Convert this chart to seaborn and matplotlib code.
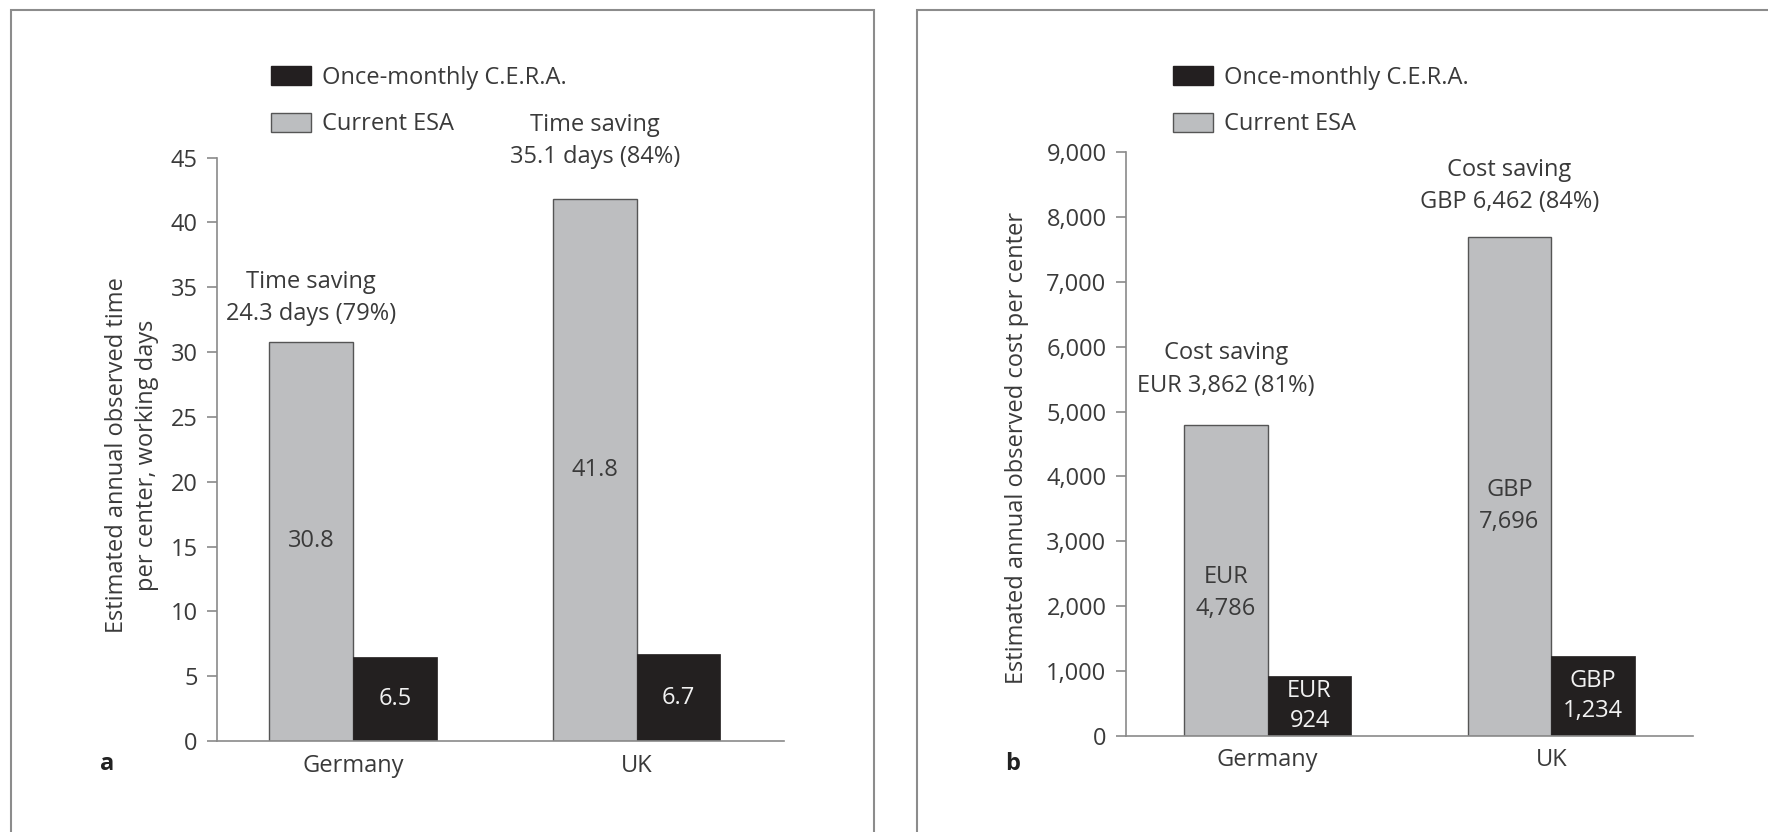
import matplotlib
matplotlib.use("Agg")
import matplotlib.pyplot as plt
from matplotlib.patches import Rectangle, Patch
from matplotlib.ticker import StrMethodFormatter
import pandas as pd
import seaborn as sns

# data
countries = ["Germany", "UK"]
groups = ["Current ESA", "Once-monthly C.E.R.A."]

time_esa = [30.8, 41.8]
time_cera = [6.5, 6.7]
time_esa_labels = ["30.8", "41.8"]
time_cera_labels = ["6.5", "6.7"]
time_saving_labels = ["Time saving\n24.3 days (79%)", "Time saving\n35.1 days (84%)"]
time_ticks = list(range(0, 50, 5))

cost_esa = [4786, 7696]
cost_cera = [924, 1234]
cost_esa_labels = ["EUR\n4,786", "GBP\n7,696"]
cost_cera_labels = ["EUR\n924", "GBP\n1,234"]
cost_saving_labels = ["Cost saving\nEUR 3,862 (81%)", "Cost saving\nGBP 6,462 (84%)"]
cost_ticks = list(range(0, 10000, 1000))

GRAY = "#bcbec0"
BLACK = "#231f20"
TEXT = "#3a3a3a"
AXIS = "#8a8a8a"
W, H = 1768, 832
FS = 17

sns.set_theme(style="white")
plt.rcParams["font.family"] = ["Open Sans", "DejaVu Sans"]


def px(x0, y_top, x1, y_bottom):
    return [x0 / W, 1 - y_bottom / H, (x1 - x0) / W, (y_bottom - y_top) / H]


def draw_panel(ax, esa, cera, esa_labels, cera_labels, saving_labels, saving_y,
               esa_frac, ticks, xlim, fmt):
    df = pd.DataFrame({
        "country": countries * 2,
        "group": [groups[0]] * 2 + [groups[1]] * 2,
        "value": esa + cera,
    })
    sns.barplot(data=df, x="country", y="value", hue="group", order=countries,
                hue_order=groups, palette={groups[0]: GRAY, groups[1]: BLACK},
                width=0.59, gap=0, errorbar=None, legend=False, ax=ax)
    for bar in ax.containers[0]:
        bar.set_edgecolor("#555555")
        bar.set_linewidth(1.0)
    for bar in ax.containers[1]:
        bar.set_edgecolor(BLACK)
        bar.set_linewidth(0.5)

    for i, bar in enumerate(ax.containers[0]):
        cx = bar.get_x() + bar.get_width() / 2
        ax.text(cx, esa[i] * esa_frac, esa_labels[i], ha="center", va="center",
                fontsize=FS, color=TEXT, linespacing=1.45)
        ax.text(cx, saving_y[i], saving_labels[i], ha="center", va="center",
                fontsize=FS, color=TEXT, linespacing=1.45, clip_on=False)
    for i, bar in enumerate(ax.containers[1]):
        cx = bar.get_x() + bar.get_width() / 2
        ax.text(cx, cera[i] / 2, cera_labels[i], ha="center", va="center",
                fontsize=FS, color="#f2f2f2", linespacing=1.3)

    ax.set_xlim(*xlim)
    ax.set_ylim(ticks[0], ticks[-1])
    ax.set_yticks(ticks)
    ax.yaxis.set_major_formatter(StrMethodFormatter(fmt))
    ax.set_xticks([0, 1])
    ax.set_xticklabels(countries)
    ax.set_xticks([xlim[0], (xlim[0] + xlim[1]) / 2, xlim[1]], minor=True)
    ax.set_xlabel("")
    ax.set_ylabel("")
    ax.tick_params(axis="x", which="major", length=0, pad=9, labelsize=FS,
                   labelcolor=TEXT)
    ax.tick_params(axis="x", which="minor", length=7, width=1.2, color=AXIS,
                   direction="out")
    ax.tick_params(axis="y", length=7, width=1.2, color=AXIS, direction="out",
                   pad=7, labelsize=FS, labelcolor=TEXT, left=True)
    for side in ["top", "right"]:
        ax.spines[side].set_visible(False)
    for side in ["left", "bottom"]:
        ax.spines[side].set_color(AXIS)
        ax.spines[side].set_linewidth(1.2)
    ax.set_facecolor("none")


fig = plt.figure(figsize=(W / 100, H / 100), dpi=100)

# panel frames
fig.patches.append(Rectangle((11 / W, -0.1), (874 - 11) / W, 1.1 - 10 / H,
                             transform=fig.transFigure, fill=False,
                             edgecolor="#8c8c8c", linewidth=1.5))
fig.patches.append(Rectangle((917 / W, -0.1), 0.6, 1.1 - 10 / H,
                             transform=fig.transFigure, fill=False,
                             edgecolor="#8c8c8c", linewidth=1.5))

ax_a = fig.add_axes(px(217, 157.6, 784, 741))
ax_b = fig.add_axes(px(1126, 152, 1693, 736))

draw_panel(ax_a, time_esa, time_cera, time_esa_labels, time_cera_labels,
           time_saving_labels, [34.2, 46.3], 0.5, time_ticks, (-0.48, 1.52),
           "{x:.0f}")
draw_panel(ax_b, cost_esa, cost_cera, cost_esa_labels, cost_cera_labels,
           cost_saving_labels, [5648, 8476], 0.46, cost_ticks, (-0.5, 1.5),
           "{x:,.0f}")

fig.text(132 / W, 1 - 455 / H,
         "Estimated annual observed time\nper center, working days",
         rotation=90, ha="center", va="center", fontsize=FS, color=TEXT,
         linespacing=1.3)
fig.text(1017 / W, 1 - 448 / H, "Estimated annual observed cost per center",
         rotation=90, ha="center", va="center", fontsize=FS, color=TEXT)
fig.text(107 / W, 1 - 764 / H, "a", ha="center", va="center", fontsize=FS,
         fontweight="bold", color="#222222")
fig.text(1013 / W, 1 - 764 / H, "b", ha="center", va="center", fontsize=FS,
         fontweight="bold", color="#222222")

handles = [Patch(facecolor=BLACK, edgecolor=BLACK),
           Patch(facecolor=GRAY, edgecolor="#555555")]
legend_labels = [groups[1], groups[0]]
for x0 in [271, 1173]:
    fig.legend(handles, legend_labels, loc="upper left",
               bbox_to_anchor=(x0 / W, 1 - 66 / H), frameon=False, fontsize=FS,
               handlelength=1.7, handleheight=0.85, handletextpad=0.45,
               labelspacing=0.95, borderpad=0, borderaxespad=0,
               labelcolor=TEXT)

fig.savefig("out.png", dpi=100)
